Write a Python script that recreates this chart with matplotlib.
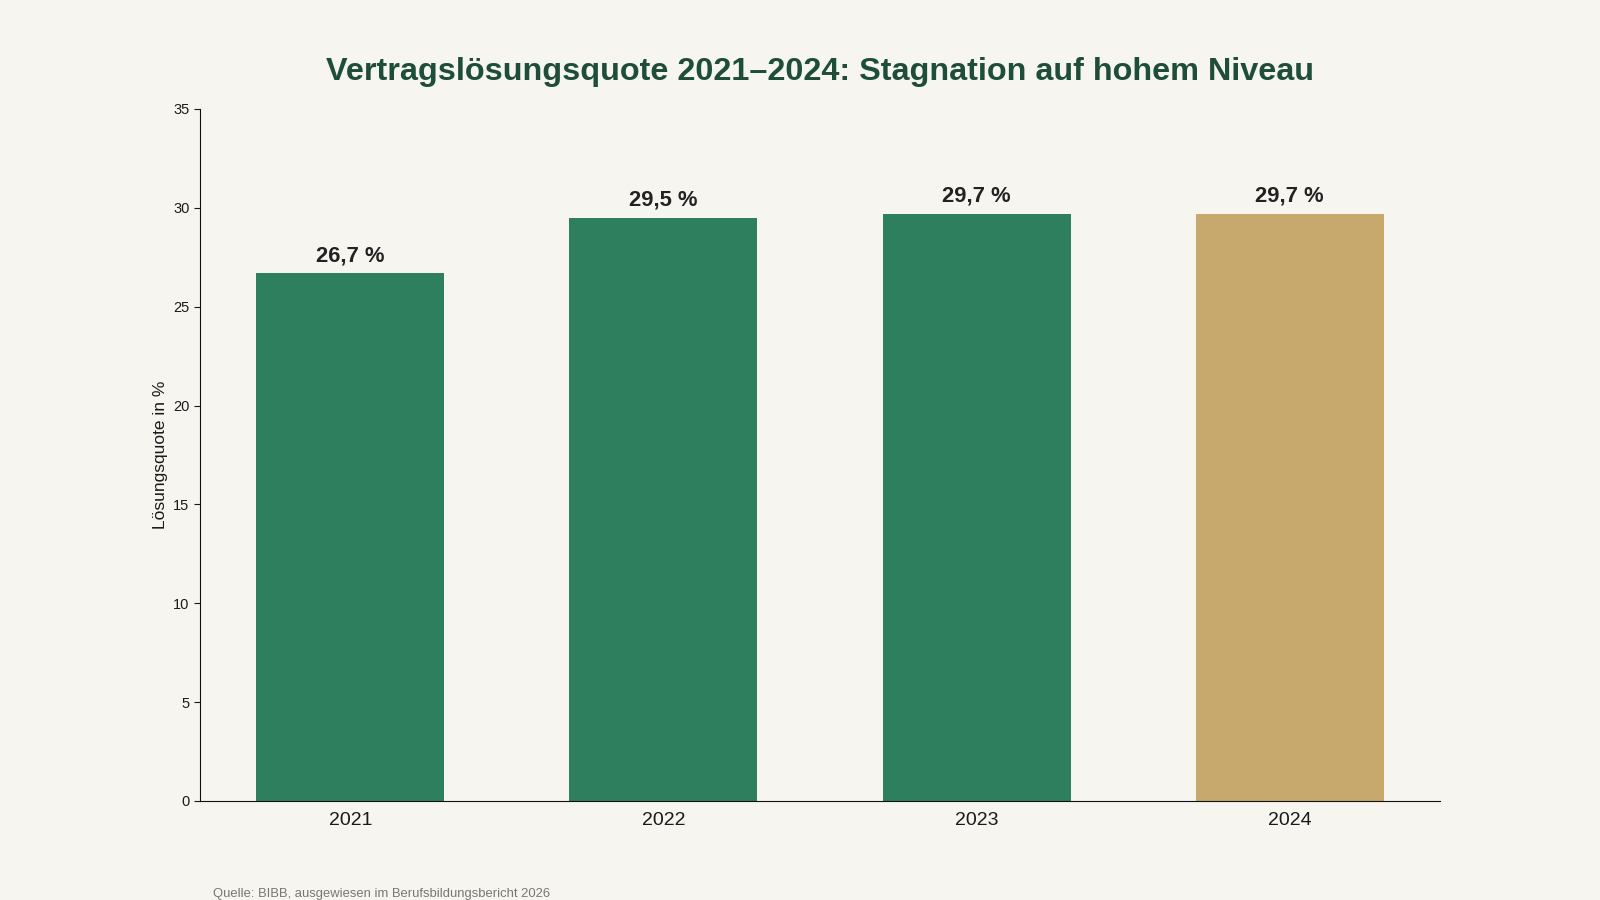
import matplotlib
matplotlib.use('Agg')
from matplotlib import pyplot as plt

# data
years = ['2021', '2022', '2023', '2024']
quote = [26.7, 29.5, 29.7, 29.7]
labels = ['26,7 %', '29,5 %', '29,7 %', '29,7 %']

green = '#2E7F5D'
gold = '#C8A96D'
bg = '#F6F5F0'
colors = [green, green, green, gold]

plt.rcParams['font.family'] = ['Liberation Sans', 'DejaVu Sans']

fig = plt.figure(figsize=(16, 9), dpi=100, facecolor=bg)
ax = fig.add_axes([0.125, 0.110, 0.775, 0.769])
ax.set_facecolor(bg)

x = range(len(years))
bars = ax.bar(x, quote, width=0.6, color=colors)
for b, lab in zip(bars, labels):
    ax.annotate(lab, (b.get_x() + b.get_width() / 2, b.get_height()),
                xytext=(0, 5), textcoords='offset points',
                ha='center', va='bottom', fontsize=15.8, fontweight='bold',
                color='#222222')

ax.set_xlim(-0.48, 3.48)
ax.set_ylim(0, 35)
ax.set_xticks(list(x))
ax.set_xticklabels(years, fontsize=14, color='#1a1a1a')
ax.tick_params(axis='x', length=0, pad=8)
ax.tick_params(axis='y', labelsize=10.5, colors='#1a1a1a', length=4)
ax.set_yticks([0, 5, 10, 15, 20, 25, 30, 35])
ax.set_ylabel('Lösungsquote in %', fontsize=12.5, color='#1a1a1a', labelpad=4)

for s in ['top', 'right']:
    ax.spines[s].set_visible(False)
for s in ['left', 'bottom']:
    ax.spines[s].set_color('#111111')

fig.text(0.5125, 0.920, 'Vertragslösungsquote 2021–2024: Stagnation auf hohem Niveau',
         ha='center', va='center', fontsize=23.3, fontweight='bold', color='#1E4D3A')
fig.text(0.133, 0.007, 'Quelle: BIBB, ausgewiesen im Berufsbildungsbericht 2026',
         ha='left', va='center', fontsize=9.4, color='#777777')

fig.savefig('out.png', dpi=100, facecolor=bg)
